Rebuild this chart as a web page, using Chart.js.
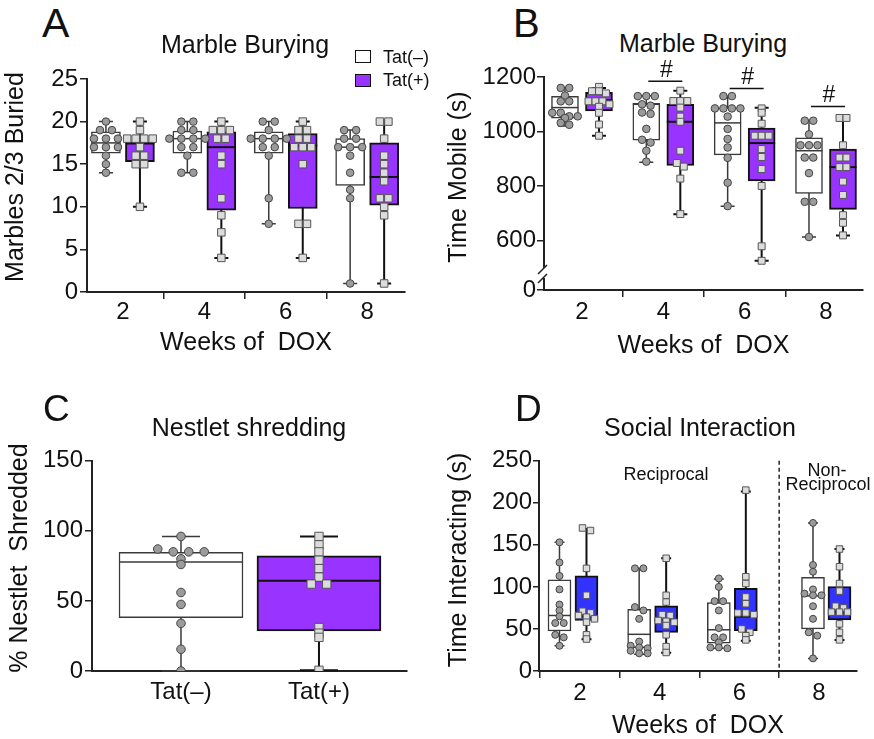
<!DOCTYPE html>
<html>
<head>
<meta charset="utf-8">
<script src="https://cdn.jsdelivr.net/npm/chart.js@4.4.1/dist/chart.umd.min.js"></script>
<style>
  body { margin: 0; background: #fff; width: 874px; height: 739px; position: relative; overflow: hidden;
         font-family: "Liberation Sans", Arial, sans-serif; color: #111; }
  canvas { position: absolute; }
  .t { position: absolute; white-space: pre; line-height: 1; }
  .sw { position: absolute; box-sizing: border-box; border: 1.5px solid #111; }
</style>
</head>
<body>
<canvas id="chA" width="430" height="310" style="left:0;top:60px"></canvas>
<canvas id="chB" width="434" height="310" style="left:440px;top:60px"></canvas>
<canvas id="chC" width="440" height="339" style="left:0;top:400px"></canvas>
<canvas id="chD" width="434" height="339" style="left:440px;top:400px"></canvas>
<div class="sw" style="left:355px;top:50px;width:16px;height:13px;background:#fff"></div>
<div class="sw" style="left:355px;top:74px;width:16px;height:13px;background:#9933ff"></div>
<script>
var weeks = [2, 4, 6, 8];
var tatLabels = ["Tat(–)", "Tat(+)"];

// box = [min, q1, median, q3, max] for each week
// A: marbles 2/3 buried
var aBoxNeg = [[14, 16.3, 17.5, 18.8, 20], [14, 16.3, 18, 18.9, 20], [8, 16.3, 18, 18.8, 20], [1, 12.5, 17, 18, 19]];
var aBoxPos = [[10, 15.3, 17.5, 17.5, 20], [4, 9.6, 17, 18.8, 20], [4, 9.8, 17.2, 18.6, 20], [1, 10.2, 13.5, 17.5, 20]];
var aPtsNeg = [
    [20, 19, 19, 18, 18, 18, 17, 17, 17, 16, 15, 14],
    [20, 20, 19, 19, 18, 18, 18, 18, 17, 17, 16, 14, 14],
    [20, 20, 19, 18, 18, 18, 18, 17, 17, 16, 11, 8],
    [19, 19, 18, 18, 17, 17, 17, 16, 14, 12, 11, 1]
];
var aPtsPos = [
    [20, 19, 18, 18, 18, 18, 17, 16, 16, 15, 15, 10],
    [20, 19, 19, 19, 18, 18, 16, 15, 11, 9, 7, 4],
    [20, 19, 19, 18, 18, 17, 17, 17, 15, 8, 8, 4],
    [20, 20, 18, 16, 15, 14, 13, 11, 11, 10, 9, 1]
];
var aTicks = [0, 5, 10, 15, 20, 25];

// B: time mobile (s)
var bBoxNeg = [[1021, 1049, 1088, 1129, 1162], [888, 969, 1100, 1104, 1131], [727, 915, 1032, 1087, 1130], [614, 774, 930, 977, 1042]];
var bBoxPos = [[985, 1076, 1115, 1144, 1160], [697, 876, 1036, 1100, 1150], [527, 819, 958, 1013, 1087], [620, 715, 870, 936, 1050]];
var bPtsNeg = [
    [1160, 1160, 1132, 1111, 1111, 1069, 1069, 1056, 1056, 1050, 1032, 1025],
    [1130, 1130, 1130, 1100, 1095, 1070, 1065, 1010, 970, 960, 930, 890],
    [1130, 1130, 1085, 1085, 1085, 1085, 1055, 1010, 973, 942, 904, 813, 727],
    [1040, 1040, 990, 950, 950, 950, 905, 905, 848, 743, 743, 614]
];
var bPtsPos = [
    [1164, 1148, 1148, 1140, 1111, 1111, 1111, 1100, 1091, 1069, 1026, 985],
    [1150, 1112, 1112, 1112, 1088, 1055, 1036, 930, 885, 872, 828, 698],
    [1085, 1069, 1029, 985, 985, 985, 936, 907, 863, 801, 580, 527],
    [1050, 1050, 950, 905, 905, 870, 870, 817, 768, 694, 666, 620]
];
var bSigLine = [null, 1184, 1158, 1092];
var bTicks = [420, 600, 800, 1000, 1200];   // 420 sits where the broken axis shows 0
var bTickLabels = ["0", "600", "800", "1000", "1200"];

// C: % nestlet shredded (one box per genotype)
var cBoxNeg = [[0, 38, 77.7, 84.6, 96]];
var cBoxPos = [[0.5, 28.5, 64.4, 82.2, 96]];
var cPtsNeg = [[96, 87, 85, 85, 85, 80, 76, 56, 47.5, 34, 15.5, 0]];
var cPtsPos = [[96, 90, 85, 79, 73, 67, 62, 62, 31, 27, 24, 0.5]];
var cTicks = [0, 50, 100, 150];

// D: time interacting (s)
var dBoxNeg = [[30, 47.6, 66, 108.3, 153], [20, 27.8, 43.6, 73.4, 122], [27, 33, 49, 81.3, 109.5], [15, 50, 89.3, 111.5, 176]];
var dBoxPos = [[37.7, 60, 64.7, 113, 168.7], [21.8, 46, 60.7, 77.4, 134], [36, 48, 64.7, 98.4, 213.5], [37, 60.7, 70, 100.4, 145]];
var dPtsNeg = [
    [153, 129, 113, 97, 79, 72, 65, 57, 57, 43, 40, 30],
    [122, 122, 76, 72, 62, 35, 30, 28, 27, 24, 21, 21],
    [110, 100, 83, 83, 72, 51, 40, 40, 34, 28, 28, 27],
    [176, 126, 118, 97, 92, 90, 90, 77, 62, 46, 42, 15]
];
var dPtsPos = [
    [170, 167, 122, 90, 71, 69, 66, 64, 62, 58, 43, 38],
    [134, 90, 82, 67, 66, 60, 59, 58, 54, 43, 29, 22],
    [215, 112, 104, 88, 80, 69, 69, 67, 50, 46, 42, 37],
    [145, 124, 104, 95, 77, 75, 70, 70, 70, 56, 46, 37]
];
var dTicks = [0, 50, 100, 150, 200, 250];

var FONT = '"Liberation Sans", Arial, sans-serif';
Chart.defaults.font.family = FONT;
Chart.defaults.color = "#111";

// plain text placed by baseline
function label(text, x, base, size, center) {
    var d = document.createElement("div");
    d.className = "t";
    d.textContent = text;
    d.style.fontSize = size + "px";
    d.style.top = (base - 0.8465 * size) + "px";
    d.style.left = x + "px";
    if (center) d.style.transform = "translateX(-50%)";
    document.body.appendChild(d);
}
// rotated axis title, centred on (cx, cy)
function vlabel(text, cx, cy, size) {
    var d = document.createElement("div");
    d.className = "t";
    d.textContent = text;
    d.style.fontSize = size + "px";
    d.style.left = cx + "px";
    d.style.top = cy + "px";
    d.style.transform = "translate(-50%, -50%) rotate(-90deg)";
    document.body.appendChild(d);
}

// whiskers, medians and point rows for one panel
function boxPlugin(p) {
    return {
        id: "box" + p.id,
        afterDatasetsUpdate: function (chart) {
            chart.data.datasets.forEach(function (ds, i) {
                var meta = chart.getDatasetMeta(i);
                if (ds.role === "box") {
                    meta.data.forEach(function (el, g) { el.x += p.off(ds.series, g); });
                }
                if (ds.role === "pts") {
                    var groups = {};
                    meta.data.forEach(function (el, j) {
                        var g = ds.data[j].g;
                        (groups[g] = groups[g] || []).push(el);
                    });
                    Object.keys(groups).forEach(function (g) {
                        var els = groups[g].sort(function (a, b) { return a.y - b.y; });
                        var base = p.off(ds.series, +g);
                        var sp = p.spacing[ds.series];
                        var row = [];
                        function flush() {
                            row.forEach(function (e, k) { e.x += base + (k - (row.length - 1) / 2) * sp; });
                            row = [];
                        }
                        els.forEach(function (e) {
                            if (row.length && e.y - row[0].y >= p.tol) flush();
                            row.push(e);
                        });
                        flush();
                    });
                }
            });
        },
        beforeDatasetsDraw: function (chart) {
            var ctx = chart.ctx, x = chart.scales.x, y = chart.scales.y;
            ctx.save();
            p.boxes.forEach(function (list, s) {
                ctx.strokeStyle = p.line[s].color;
                ctx.lineWidth = p.line[s].width;
                list.forEach(function (b, g) {
                    var cx = x.getPixelForValue(p.pos(s, g)) + p.off(s, g);
                    var y0 = y.getPixelForValue(b[0]), y4 = y.getPixelForValue(b[4]);
                    ctx.beginPath();
                    ctx.moveTo(cx, y0); ctx.lineTo(cx, y4);
                    ctx.moveTo(cx - p.cap / 2, y0); ctx.lineTo(cx + p.cap / 2, y0);
                    ctx.moveTo(cx - p.cap / 2, y4); ctx.lineTo(cx + p.cap / 2, y4);
                    ctx.stroke();
                });
            });
            ctx.restore();
        },
        afterDatasetDraw: function (chart, args) {
            var ds = chart.data.datasets[args.index];
            if (ds.role !== "box") return;
            var ctx = chart.ctx, x = chart.scales.x, y = chart.scales.y, s = ds.series;
            ctx.save();
            ctx.strokeStyle = p.line[s].color;
            ctx.lineWidth = p.line[s].width;
            p.boxes[s].forEach(function (b, g) {
                var cx = x.getPixelForValue(p.pos(s, g)) + p.off(s, g);
                var ym = y.getPixelForValue(b[2]);
                ctx.beginPath();
                ctx.moveTo(cx - p.boxW / 2, ym); ctx.lineTo(cx + p.boxW / 2, ym);
                ctx.stroke();
            });
            ctx.restore();
        },
        afterDraw: function (chart) { if (p.extra) p.extra(chart); }
    };
}

function panel(p) {
    var datasets = [];
    p.pts.forEach(function (list, s) {
        var data = [];
        list.forEach(function (vals, g) {
            vals.forEach(function (v) { data.push({ x: p.pos(s, g), y: v, g: g }); });
        });
        datasets.push({
            type: "scatter", role: "pts", series: s, order: 1, data: data,
            pointStyle: s ? "rect" : "circle",
            pointRadius: p.radius[s], pointHoverRadius: p.radius[s],
            pointBackgroundColor: s ? "#dcdcdc" : "#9b9b9b",
            pointBorderColor: s ? "#555555" : "#444444",
            pointBorderWidth: 1
        });
    });
    p.boxes.forEach(function (list, s) {
        datasets.push({
            type: "bar", role: "box", series: s, order: 2,
            data: list.map(function (b, g) { return { x: p.pos(s, g), y: [b[1], b[3]] }; }),
            backgroundColor: p.fill[s], borderColor: p.line[s].color, borderWidth: p.line[s].width,
            borderSkipped: false, grouped: false, barThickness: p.boxW, maxBarThickness: p.boxW
        });
    });

    return new Chart(document.getElementById(p.id), {
        type: "bar",
        data: { datasets: datasets },
        plugins: [boxPlugin(p)],
        options: {
            responsive: false,
            animation: false,
            events: [],
            layout: { padding: { top: p.padTop, right: p.padRight, left: 0, bottom: 0 } },
            plugins: { legend: { display: false }, tooltip: { enabled: false } },
            scales: {
                x: {
                    type: "linear", min: p.xMin, max: p.xMax, offset: false,
                    afterBuildTicks: function (sc) { sc.ticks = p.xTicks.map(function (v) { return { value: v }; }); },
                    afterFit: function (sc) { sc.height = p.xH; },
                    ticks: {
                        callback: p.xLabel, autoSkip: false, maxRotation: 0,
                        font: { size: 24, lineHeight: 1 }, color: "#111", padding: p.xPad
                    },
                    grid: { display: p.xMarks, drawOnChartArea: false, drawTicks: p.xMarks, tickLength: 7, color: "#222", lineWidth: 1.5 },
                    border: { display: true, color: "#222", width: 2 },
                    title: { display: !!p.xTitle, text: p.xTitle, color: "#111",
                        font: { size: 25, lineHeight: 1 }, padding: { top: 0, bottom: p.xTitlePad } }
                },
                y: {
                    type: "linear", min: p.yTicks[0], max: p.yTicks[p.yTicks.length - 1],
                    afterBuildTicks: function (sc) { sc.ticks = p.yTicks.map(function (v) { return { value: v }; }); },
                    afterFit: function (sc) { sc.width = p.yW; },
                    ticks: {
                        callback: p.yLabel, autoSkip: false,
                        font: { size: 24, lineHeight: 1 }, color: "#111", padding: p.yPad
                    },
                    grid: { display: true, drawOnChartArea: false, drawTicks: true, tickLength: p.yTick, color: "#222", lineWidth: 1.5 },
                    border: { display: true, color: "#222", width: 2 }
                }
            }
        }
    });
}

var lineNeg = { color: "#3a3a3a", width: 1.5 };
var linePos = { color: "#111", width: 2 };
function weekLabel(v) { return String(v); }
function weekPos(s, g) { return weeks[g]; }

panel({
    id: "chA", pos: weekPos, boxes: [aBoxNeg, aBoxPos], pts: [aPtsNeg, aPtsPos],
    fill: ["#ffffff", "#9933ff"], line: [lineNeg, linePos],
    off: function (s) { return s ? 17 : -17; },
    boxW: 29, cap: 14, radius: [3.8, 5.3], spacing: [12, 8.5], tol: 4,
    xMin: 1.117, xMax: 8.93, xTicks: weeks, xLabel: weekLabel, xMarks: true, xPad: 1.5,
    xH: 78, xTitle: "Weeks of  DOX", xTitlePad: 14.5,
    yTicks: aTicks, yLabel: function (v) { return v; }, yW: 87, yTick: 7, yPad: 2,
    padTop: 19, padRight: 25
});

panel({
    id: "chB", pos: weekPos, boxes: [bBoxNeg, bBoxPos], pts: [bPtsNeg, bPtsPos],
    fill: ["#ffffff", "#9933ff"], line: [lineNeg, linePos],
    off: function (s) { return s ? 17 : -17; },
    boxW: 27, cap: 14, radius: [3.8, 4.9], spacing: [8.5, 7], tol: 4,
    xMin: 1.066, xMax: 8.91, xTicks: weeks, xLabel: weekLabel, xMarks: true, xPad: 3.5,
    xH: 80, xTitle: "Weeks of  DOX", xTitlePad: 11.5,
    yTicks: bTicks, yLabel: function (v) { return bTickLabels[bTicks.indexOf(v)]; },
    yW: 104, yTick: 7, yPad: 1,
    padTop: 17, padRight: 11,
    extra: function (chart) {
        var ctx = chart.ctx, x = chart.scales.x, y = chart.scales.y;
        ctx.save();
        ctx.strokeStyle = "#111"; ctx.fillStyle = "#111"; ctx.lineWidth = 1.5;
        ctx.font = "23px " + FONT; ctx.textAlign = "center"; ctx.textBaseline = "alphabetic";
        bSigLine.forEach(function (v, g) {
            if (v == null) return;
            var cx = x.getPixelForValue(weeks[g]);
            var yy = y.getPixelForValue(v);
            ctx.beginPath(); ctx.moveTo(cx - 15, yy); ctx.lineTo(cx + 19, yy); ctx.stroke();
            ctx.fillText("#", cx + 3, yy - 4);
        });
        // axis break
        var ax = chart.chartArea.left, by = chart.chartArea.bottom;
        ctx.fillStyle = "#fff";
        ctx.fillRect(ax - 2, by - 22, 4, 10);
        ctx.strokeStyle = "#222"; ctx.lineWidth = 1.5;
        ctx.beginPath();
        ctx.moveTo(ax - 6, by - 16); ctx.lineTo(ax + 3, by - 25);
        ctx.moveTo(ax - 6, by - 7); ctx.lineTo(ax + 3, by - 16);
        ctx.stroke();
        ctx.restore();
    }
});

panel({
    id: "chC", pos: function (s) { return s; }, boxes: [cBoxNeg, cBoxPos], pts: [cPtsNeg, cPtsPos],
    fill: ["#ffffff", "#9933ff"], line: [lineNeg, linePos],
    off: function () { return 0; },
    boxW: 124, cap: 38, radius: [4.3, 5.9], spacing: [15.5, 15.5], tol: 4,
    xMin: -0.645, xMax: 1.638, xTicks: [0, 1], xLabel: function (v) { return tatLabels[v]; }, xMarks: false, xPad: 9,
    xH: 68, xTitle: "", xTitlePad: 0,
    yTicks: cTicks, yLabel: function (v) { return v; }, yW: 92, yTick: 7, yPad: 2,
    padTop: 60.7, padRight: 33
});

panel({
    id: "chD", pos: weekPos, boxes: [dBoxNeg, dBoxPos], pts: [dPtsNeg, dPtsPos],
    fill: ["#ffffff", "#3333ff"], line: [lineNeg, linePos],
    off: function (s, g) { return g === 3 ? (s ? 20.5 : -6) : (s ? 6.5 : -20.5); },
    boxW: 23, cap: 10, radius: [3.5, 4.6], spacing: [8.5, 8], tol: 4,
    xMin: 0.971, xMax: 8.954, xTicks: weeks, xLabel: weekLabel, xMarks: true, xPad: 3,
    xH: 68, xTitle: "Weeks of  DOX", xTitlePad: 0.5,
    yTicks: dTicks, yLabel: function (v) { return v; }, yW: 99, yTick: 6, yPad: 1,
    padTop: 60.7, padRight: 17,
    extra: function (chart) {
        var ctx = chart.ctx, x = chart.scales.x, a = chart.chartArea;
        var xx = x.getPixelForValue(7);
        ctx.save();
        ctx.strokeStyle = "#222"; ctx.lineWidth = 1.5; ctx.setLineDash([4, 3]);
        ctx.beginPath(); ctx.moveTo(xx, a.top); ctx.lineTo(xx, a.bottom); ctx.stroke();
        ctx.restore();
    }
});

label("A", 42, 38, 41);
label("B", 513, 37, 40);
label("C", 43, 421, 37);
label("D", 515, 421, 37);
label("Marble Burying", 245, 53.3, 25, true);
label("Marble Burying", 703, 52.3, 25, true);
label("Nestlet shredding", 249, 435.7, 25, true);
label("Social Interaction", 700, 436, 25, true);
label(tatLabels[0], 383, 63.3, 18);
label(tatLabels[1], 383, 86.7, 18);
label("Reciprocal", 666, 480, 18, true);
label("Non-", 827, 476, 18, true);
label("Reciprocol", 828, 490, 18, true);
vlabel("Marbles 2/3 Buried", 14, 177, 25);
vlabel("Time Mobile (s)", 457, 177, 25);
vlabel("% Nestlet  Shredded", 18, 558, 25);
vlabel("Time Interacting (s)", 457, 560, 25);
</script>
</body>
</html>
